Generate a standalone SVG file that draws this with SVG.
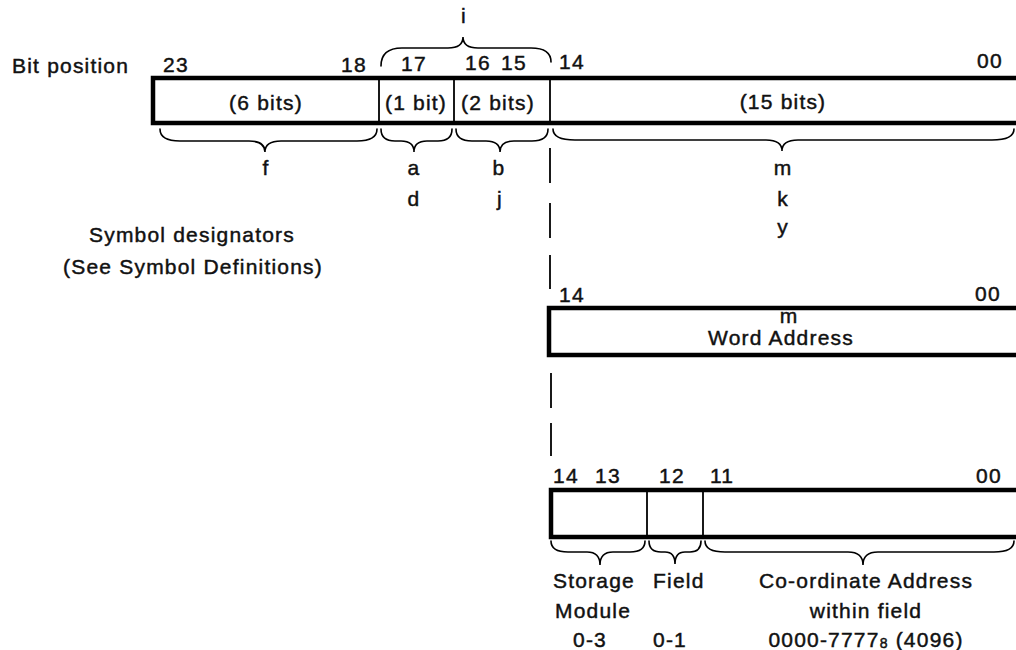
<svg xmlns="http://www.w3.org/2000/svg" width="1016" height="650" viewBox="0 0 1016 650">
<style>
text{font-family:"Liberation Sans",Arial,sans-serif;font-size:21px;fill:#111;stroke:#111;stroke-width:0.45;letter-spacing:1.2px}
.m{text-anchor:middle}
.box{fill:#fff;stroke:#000;stroke-width:4.5}
.div{stroke:#000;stroke-width:1.8;fill:none}
.br{stroke:#000;stroke-width:1.6;fill:none;stroke-linecap:round}
.dash{stroke:#000;stroke-width:1.8}
</style>
<rect width="1016" height="650" fill="#fff"/>
<text x="12" y="73">Bit position</text>
<text class="m" x="192" y="242">Symbol designators</text>
<text class="m" x="193" y="274">(See Symbol Definitions)</text>

<g id="word24">
<rect class="box" x="153" y="78" width="900" height="45"/>
<line class="div" x1="379" y1="78" x2="379" y2="123"/>
<line class="div" x1="454" y1="78" x2="454" y2="123"/>
<line class="div" x1="550" y1="78" x2="550" y2="123"/>
<text x="163" y="72">23</text>
<text x="341" y="72">18</text>
<text x="401" y="71">17</text>
<text x="465" y="70">16</text>
<text x="501" y="70">15</text>
<text x="559" y="69">14</text>
<text x="977" y="68">00</text>
<text class="m" x="266" y="110">(6 bits)</text>
<text class="m" x="416" y="110">(1 bit)</text>
<text class="m" x="498" y="110">(2 bits)</text>
<text class="m" x="783" y="109">(15 bits)</text>
</g>

<g id="braces-top">
<path class="br" d="M381,66 Q381,48 402,48 L448,48 Q463,48 463,37 Q463,48 478,48 L531,48 Q551,48 551,62"/>
<path class="br" d="M160,129 Q160,141 180,141 L249,141 Q265,141 265,152 Q265,141 281,141 L357,141 Q377,141 377,129"/>
<path class="br" d="M381,129 Q381,141 395,141 L401,141 Q414,141 414,152 Q414,141 427,141 L438,141 Q452,141 452,129"/>
<path class="br" d="M456,129 Q456,141 472,141 L486,141 Q500,141 500,152 Q500,141 514,141 L532,141 Q548,141 548,129"/>
<path class="br" d="M553,129 Q553,140 575,140 L766,140 Q782,140 782,151 Q782,140 798,140 L992,140 Q1014,140 1014,129"/>
</g>

<g id="labels-top">
<text class="m" x="464" y="23">i</text>
<text class="m" x="266" y="175">f</text>
<text class="m" x="414" y="175">a</text>
<text class="m" x="499" y="175">b</text>
<text class="m" x="783" y="175">m</text>
<text class="m" x="414" y="206">d</text>
<text class="m" x="500" y="206">j</text>
<text class="m" x="783" y="206">k</text>
<text class="m" x="783" y="234">y</text>
</g>

<g id="connectors">
<line class="dash" x1="550" y1="148" x2="550" y2="183"/>
<line class="dash" x1="550" y1="203" x2="550" y2="238"/>
<line class="dash" x1="550" y1="255" x2="550" y2="289"/>
<line class="dash" x1="551" y1="373" x2="551" y2="408"/>
<line class="dash" x1="551" y1="423" x2="551" y2="456"/>
</g>

<g id="word-address">
<rect class="box" x="549" y="308" width="500" height="47"/>
<text x="559" y="302">14</text>
<text x="975" y="301">00</text>
<text class="m" x="789" y="323">m</text>
<text class="m" x="781" y="345">Word Address</text>
</g>

<g id="coord-address">
<rect class="box" x="551" y="490" width="500" height="47"/>
<line class="div" x1="647" y1="490" x2="647" y2="537"/>
<line class="div" x1="703" y1="490" x2="703" y2="537"/>
<text x="553" y="483">14</text>
<text x="595" y="483">13</text>
<text x="659" y="483">12</text>
<text x="710" y="483">11</text>
<text x="976" y="483">00</text>
<path class="br" d="M551,541 Q551,552 568,552 L587,552 Q600,552 600,565 Q600,552 613,552 L630,552 Q645,552 645,541"/>
<path class="br" d="M649,541 Q649,552 661,552 L665,552 Q675,552 675,564 Q675,552 685,552 L690,552 Q701,552 701,541"/>
<path class="br" d="M705,541 Q705,552 725,552 L848,552 Q863,552 863,565 Q863,552 878,552 L994,552 Q1014,552 1014,541"/>
<text x="553" y="588">Storage</text>
<text x="653" y="588">Field</text>
<text class="m" x="866" y="588">Co-ordinate Address</text>
<text x="555" y="618">Module</text>
<text class="m" x="866" y="618">within field</text>
<text x="573" y="647">0-3</text>
<text x="653" y="647">0-1</text>
<text class="m" x="866" y="647">0000-7777<tspan font-size="14" dy="1">8</tspan><tspan dy="-1"> (4096)</tspan></text>
</g>
</svg>
